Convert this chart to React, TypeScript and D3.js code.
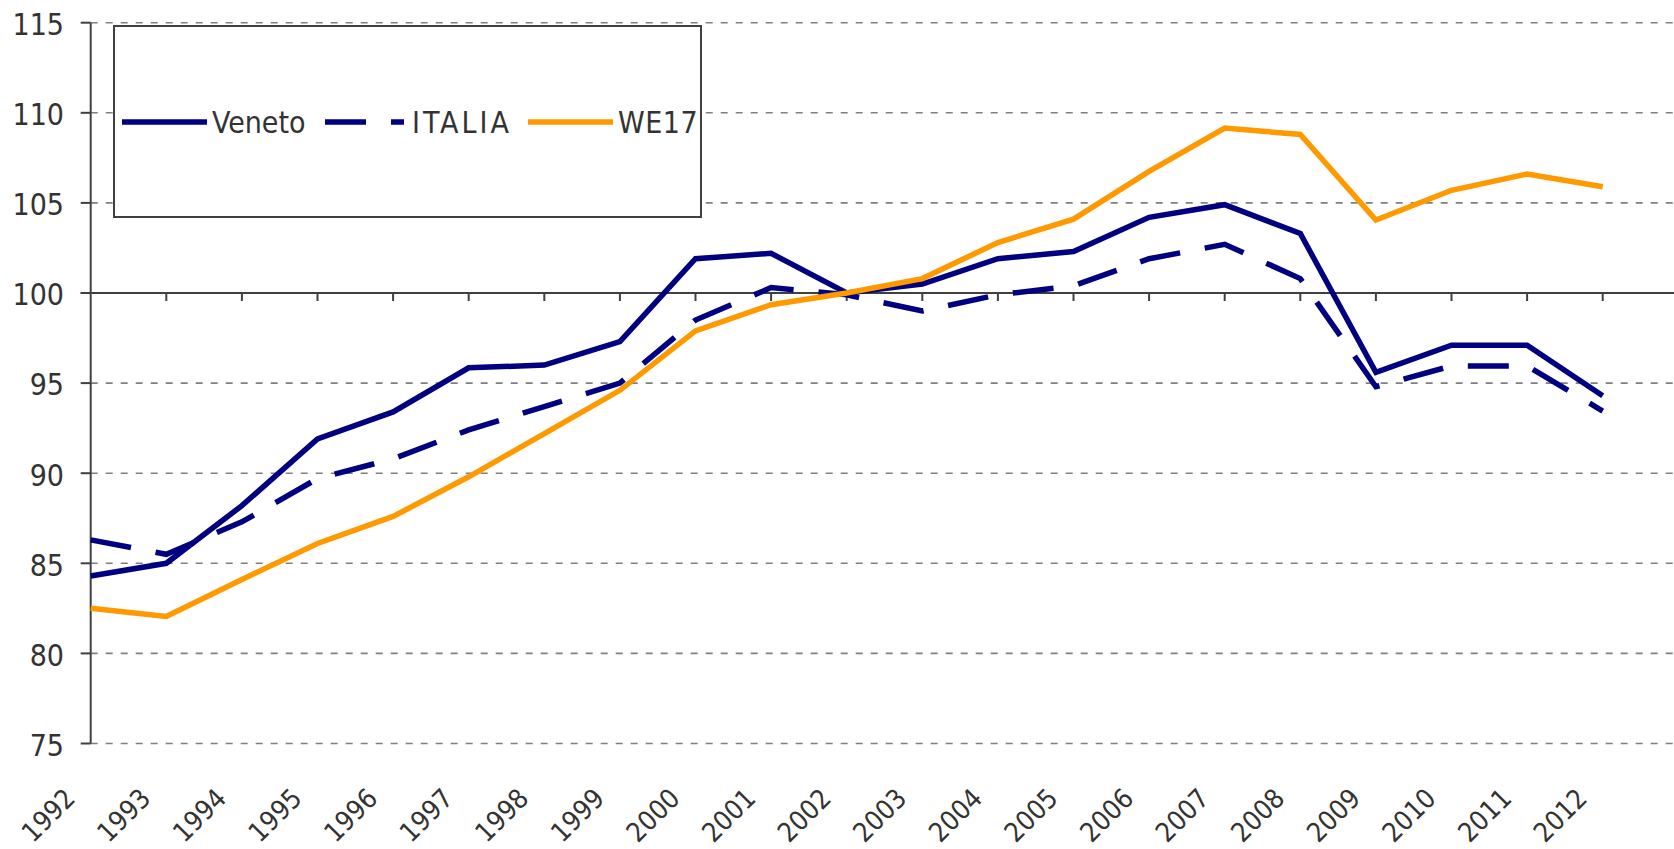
import React from 'react';
import * as d3 from 'd3';

const YEARS = [
  '1992', '1993', '1994', '1995', '1996', '1997', '1998', '1999', '2000', '2001', '2002',
  '2003', '2004', '2005', '2006', '2007', '2008', '2009', '2010', '2011', '2012',
];

const VENETO = [
  84.3, 85.0, 88.2, 91.9, 93.4, 95.85, 96.0, 97.3, 101.9, 102.2, 100.0,
  100.5, 101.9, 102.3, 104.2, 104.9, 103.3, 95.6, 97.1, 97.1, 94.3,
];
const ITALIA = [
  86.3, 85.5, 87.3, 89.7, 90.8, 92.4, 93.7, 95.0, 98.5, 100.3, 99.9,
  99.0, 99.9, 100.4, 101.9, 102.7, 100.8, 94.8, 95.95, 95.95, 93.45,
];
const WE17 = [
  82.5, 82.05, 84.1, 86.1, 87.6, 89.8, 92.2, 94.6, 97.9, 99.35, 100.0,
  100.8, 102.8, 104.1, 106.75, 109.15, 108.8, 104.05, 105.7, 106.6, 105.9,
];

const Y_TICKS = [75, 80, 85, 90, 95, 100, 105, 110, 115];

const SERIES = [
  { name: 'Veneto', values: VENETO, color: '#000080', dash: null },
  { name: 'ITALIA', values: ITALIA, color: '#000080', dash: '41,25' },
  { name: 'WE17', values: WE17, color: '#FF9900', dash: null },
];

const WIDTH = 1674;
const HEIGHT = 849;
const FONT = '"DejaVu Sans Condensed", "DejaVu Sans", sans-serif';
const TEXT = '#333333';
const AXIS = '#404040';

export default function App() {
  const left = 90.7;
  const step = 75.6;

  // one empty slot after 2012, like the source plot area
  const x = d3
    .scalePoint<string>()
    .domain([...YEARS, '2013'])
    .range([left, left + step * YEARS.length]);

  const y = d3.scaleLinear().domain([75, 115]).range([743.5, 22.7]);

  const line = d3
    .line<number>()
    .x((_, i) => x(YEARS[i]) as number)
    .y(d => y(d));

  const legendItems = [
    { s: SERIES[0], x1: 122, x2: 207, tx: 212, ls: 0 },
    { s: SERIES[1], x1: 325, x2: 404, tx: 412, ls: 3 },
    { s: SERIES[2], x1: 528, x2: 613, tx: 618, ls: 0.5 },
  ];

  return (
    <svg
      width={WIDTH}
      height={HEIGHT}
      style={{ position: 'absolute', left: 0, top: 0, background: '#fff' }}
      fontFamily={FONT}
    >
      {/* grid */}
      {Y_TICKS.filter(t => t !== 100).map(t => (
        <line
          key={'g' + t}
          x1={left}
          x2={WIDTH}
          y1={y(t)}
          y2={y(t)}
          stroke="#808080"
          strokeWidth={1.6}
          strokeDasharray="7,8"
        />
      ))}

      {/* horizontal axis at 100 */}
      <line x1={left - 10} x2={WIDTH} y1={y(100)} y2={y(100)} stroke={AXIS} strokeWidth={2} />
      {YEARS.slice(1).concat(['2013']).map(yr => (
        <line
          key={'xt' + yr}
          x1={x(yr)}
          x2={x(yr)}
          y1={y(100)}
          y2={y(100) + 8}
          stroke={AXIS}
          strokeWidth={2}
        />
      ))}

      {/* vertical axis */}
      <line x1={left} x2={left} y1={y(115)} y2={y(75)} stroke={AXIS} strokeWidth={2} />
      {Y_TICKS.map(t => (
        <g key={'yt' + t}>
          <line x1={left - 10} x2={left} y1={y(t)} y2={y(t)} stroke={AXIS} strokeWidth={2} />
          <text x={64} y={y(t) + 12.3} textAnchor="end" fontSize={30} fill={TEXT}>
            {t}
          </text>
        </g>
      ))}

      {/* year labels */}
      {YEARS.map(yr => {
        const px = (x(yr) as number) - 14;
        const py = 800;
        return (
          <text
            key={'xl' + yr}
            x={px}
            y={py}
            textAnchor="end"
            fontSize={27}
            fill={TEXT}
            transform={`rotate(-45 ${px} ${py})`}
          >
            {yr}
          </text>
        );
      })}

      {/* legend */}
      <rect x={114} y={26} width={587} height={191} fill="#fff" stroke={AXIS} strokeWidth={2} />
      {legendItems.map(({ s, x1, x2, tx, ls }) => (
        <g key={'lg' + s.name}>
          <line
            x1={x1}
            x2={x2}
            y1={122}
            y2={122}
            stroke={s.color}
            strokeWidth={5.5}
            strokeDasharray={s.dash ?? undefined}
          />
          <text x={tx} y={133} fontSize={30} fill={TEXT} letterSpacing={ls}>
            {s.name}
          </text>
        </g>
      ))}

      {/* series */}
      {SERIES.map(s => (
        <path
          key={s.name}
          d={line(s.values) ?? ''}
          fill="none"
          stroke={s.color}
          strokeWidth={5.5}
          strokeDasharray={s.dash ?? undefined}
          strokeLinejoin="miter"
        />
      ))}
    </svg>
  );
}
